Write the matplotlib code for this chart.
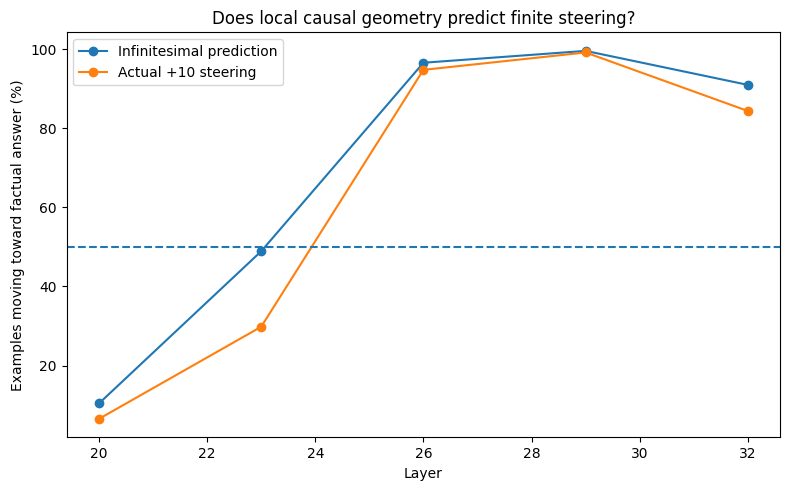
import matplotlib
matplotlib.use("Agg")
import matplotlib.pyplot as plt

layers = [20, 23, 26, 29, 32]
infinitesimal = [10.4, 48.9, 96.6, 99.6, 91.0]
actual = [6.5, 29.8, 94.8, 99.2, 84.4]
threshold = 50

fig, ax = plt.subplots(figsize=(7.9, 4.9), dpi=100)
ax.plot(layers, infinitesimal, marker="o", label="Infinitesimal prediction")
ax.plot(layers, actual, marker="o", label="Actual +10 steering")
ax.axhline(threshold, linestyle="--")
ax.set_xlabel("Layer")
ax.set_ylabel("Examples moving toward factual answer (%)")
ax.set_title("Does local causal geometry predict finite steering?")
ax.legend()
fig.subplots_adjust(left=0.0842, right=0.9877, top=0.9337, bottom=0.1076)
fig.savefig("out.png")
